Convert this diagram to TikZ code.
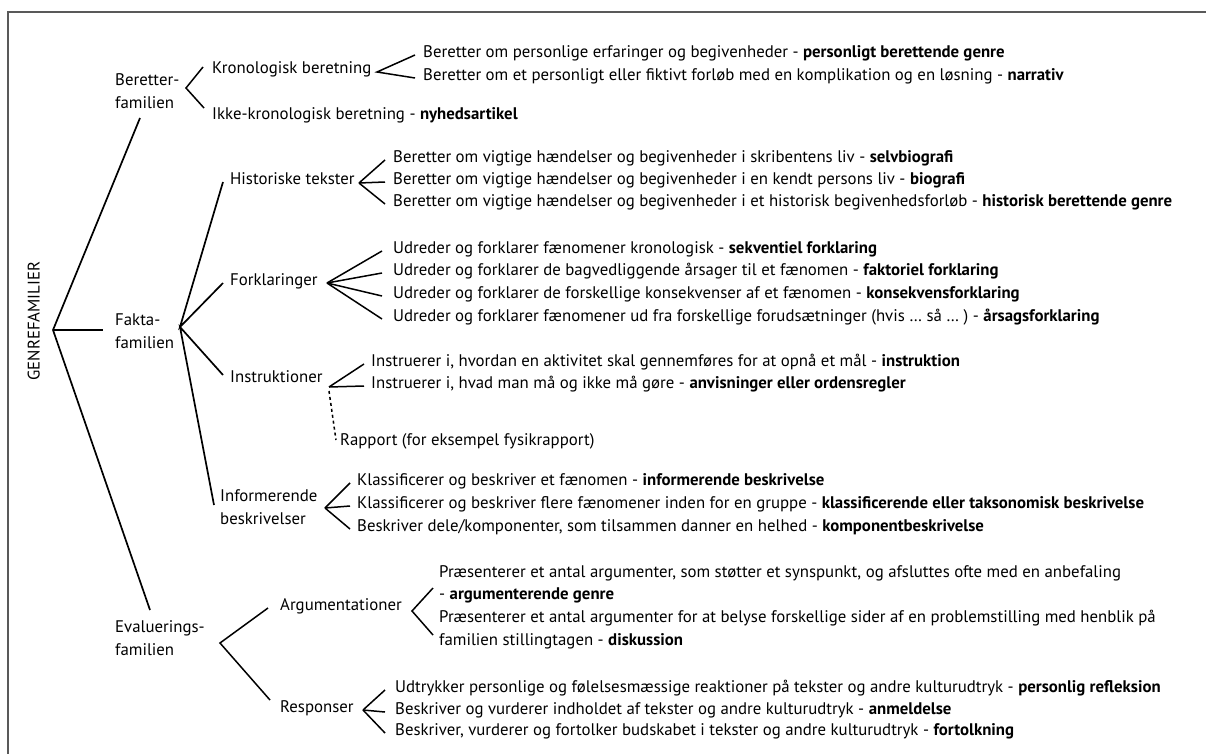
\documentclass[tikz,border=0pt]{standalone}
\usepackage{fontspec}
\setmainfont{PT Sans}
\begin{document}
\begin{tikzpicture}[x=1pt,y=-1pt,
  txt/.style={anchor=west, inner sep=0pt, text=black, font=\fontsize{16.8}{23}\selectfont, text height=0.72em, text depth=0.2em},
  two/.style={txt, align=left, text height=, text depth=},
  ln/.style={line width=1.7pt, black},
  fan/.style={line width=1.5pt, black},
  frame/.style={line width=1.8pt, black!65}]
\useasboundingbox (0,0) rectangle (1206,754);
\draw[frame] (8,754) -- (8,12) -- (1206,12);

% root
\node[txt, anchor=center, rotate=90] (root) at (37,321) {GENREFAMILIER};
\coordinate (ra) at (53,330);

% families
\node[two] (bf) at (115,91) {Beretter-\\familien};
\node[two] (ff) at (115,331) {Fakta-\\familien};
\node[two] (ef) at (115,638) {Evaluerings-\\familien};
\coordinate (bfe) at (140,118);
\coordinate (ffe) at (103,330);
\coordinate (efe) at (150,610);
\draw[ln] (bfe) -- (ra) -- (efe);
\draw[ln] (ra) -- (ffe);

% Beretter-familien
\coordinate (bfa) at (186,88);
\node[txt] (kron) at (212,71) {Kronologisk beretning};
\node[txt] (ikke) at (212,117) {Ikke-kronologisk beretning - \textbf{nyhedsartikel}};
\draw[fan] ([xshift=-9pt,yshift=4pt]kron.west) -- (bfa) -- ([xshift=-8pt,yshift=9pt]ikke.west);
\coordinate (kra) at (377,72);
\node[txt] (k1) at (423,55) {Beretter om personlige erfaringer og begivenheder - \textbf{personligt berettende genre}};
\node[txt] (k2) at (423,78) {Beretter om et personligt eller fiktivt forløb med en komplikation og en løsning - \textbf{narrativ}};
\draw[fan] ([xshift=-8pt]k1.west) -- (kra) -- ([xshift=-8pt]k2.west);

% Fakta-familien
\coordinate (ffa) at (180,327);
\node[txt] (hist) at (230,182) {Historiske tekster};
\node[txt] (fork) at (230,283) {Forklaringer};
\node[txt] (inst) at (230,380) {Instruktioner};
\node[two] (info) at (220,507) {Informerende\\beskrivelser};
\draw[ln] ([xshift=-7pt]hist.west) -- (ffa) -- ([xshift=-7pt]fork.west);
\draw[ln] ([xshift=-7pt,yshift=5pt]inst.west) -- (ffa) -- ([xshift=-6pt,yshift=2pt]info.west);

\coordinate (hia) at (359,183);
\node[txt] (h1) at (393,160) {Beretter om vigtige hændelser og begivenheder i skribentens liv - \textbf{selvbiografi}};
\node[txt] (h2) at (393,182) {Beretter om vigtige hændelser og begivenheder i en kendt persons liv - \textbf{biografi}};
\node[txt] (h3) at (393,204) {Beretter om vigtige hændelser og begivenheder i et historisk begivenhedsforløb - \textbf{historisk berettende genre}};
\foreach \n in {h1,h2,h3} \draw[fan] (hia) -- ([xshift=-8pt]\n.west);

\coordinate (foa) at (327,283);
\node[txt] (f1) at (393,251) {Udreder og forklarer fænomener kronologisk - \textbf{sekventiel forklaring}};
\node[txt] (f2) at (393,273) {Udreder og forklarer de bagvedliggende årsager til et fænomen - \textbf{faktoriel forklaring}};
\node[txt] (f3) at (393,296) {Udreder og forklarer de forskellige konsekvenser af et fænomen - \textbf{konsekvensforklaring}};
\node[txt] (f4) at (393,319) {Udreder og forklarer fænomener ud fra forskellige forudsætninger (hvis … så … ) - \textbf{årsagsforklaring}};
\foreach \n in {f1,f2,f3,f4} \draw[fan] (foa) -- ([xshift=-11pt]\n.west);

\coordinate (ina) at (329,387);
\node[txt] (i1) at (371,364) {Instruerer i, hvordan en aktivitet skal gennemføres for at opnå et mål - \textbf{instruktion}};
\node[txt] (i2) at (371,386) {Instruerer i, hvad man må og ikke må gøre - \textbf{anvisninger eller ordensregler}};
\foreach \n in {i1,i2} \draw[fan] (ina) -- ([xshift=-7pt]\n.west);
\node[txt] (rap) at (340,443) {Rapport (for eksempel fysikrapport)};
\draw[fan, dash pattern=on 3pt off 3pt] ([yshift=-4pt]ina) -- ([xshift=-4pt,yshift=3pt]rap.west);

\coordinate (ifa) at (325,508);
\node[txt] (n1) at (357,483) {Klassificerer og beskriver et fænomen - \textbf{informerende beskrivelse}};
\node[txt] (n2) at (357,506) {Klassificerer og beskriver flere fænomener inden for en gruppe - \textbf{klassificerende eller taksonomisk beskrivelse}};
\node[txt] (n3) at (357,529) {Beskriver dele/komponenter, som tilsammen danner en helhed - \textbf{komponentbeskrivelse}};
\foreach \n in {n1,n2,n3} \draw[fan] (ifa) -- ([xshift=-7pt]\n.west);

% Evaluerings-familien
\coordinate (efa) at (220,643);
\node[txt] (arg) at (280,608) {Argumentationer};
\node[txt] (resp) at (280,710) {Responser};
\draw[fan] ([xshift=-12pt]arg.west) -- (efa) -- ([xshift=-10pt,yshift=10pt]resp.west);

\coordinate (ara) at (412,611);
\node[txt] (a1) at (439,575) {Præsenterer et antal argumenter, som støtter et synspunkt, og afsluttes ofte med en anbefaling};
\node[txt] (a2) at (439,597) {- \textbf{argumenterende genre}};
\node[txt] (a3) at (439,620) {Præsenterer et antal argumenter for at belyse forskellige sider af en problemstilling med henblik på};
\node[txt] (a4) at (439,643) {familien stillingtagen - \textbf{diskussion}};
\draw[fan] ([xshift=-6pt,yshift=9pt]a2.west) -- (ara) -- ([xshift=-6pt,yshift=-15pt]a3.west);

\coordinate (rea) at (363,710);
\node[txt] (r1) at (395,690) {Udtrykker personlige og følelsesmæssige reaktioner på tekster og andre kulturudtryk - \textbf{personlig refleksion}};
\node[txt] (r2) at (395,712) {Beskriver og vurderer indholdet af tekster og andre kulturudtryk - \textbf{anmeldelse}};
\node[txt] (r3) at (395,733) {Beskriver, vurderer og fortolker budskabet i tekster og andre kulturudtryk - \textbf{fortolkning}};
\foreach \n in {r1,r2,r3} \draw[fan] (rea) -- ([xshift=-10pt]\n.west);
\end{tikzpicture}
\end{document}
